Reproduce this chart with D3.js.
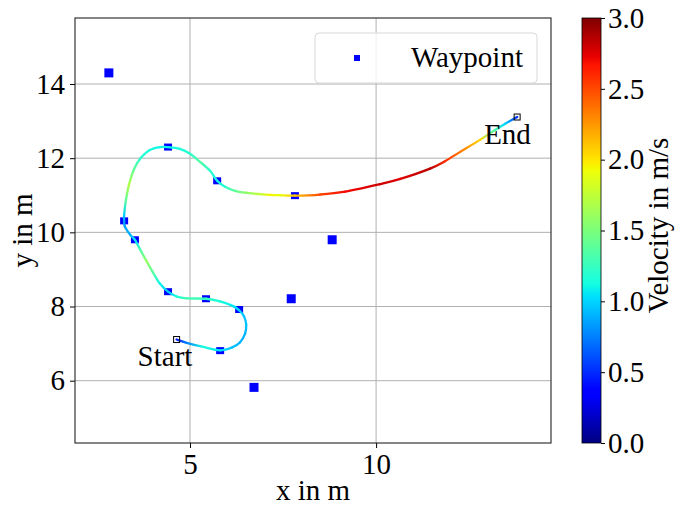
<!DOCTYPE html>
<html>
<head>
<meta charset="utf-8">
<script src="https://cdn.jsdelivr.net/npm/d3@7"></script>
<style>
  body { margin: 0; background: #fff; }
  text { font-family: 'Liberation Serif', serif; }
</style>
</head>
<body>
<main></main>
<script>
// Waypoints on the route and the ones off it
const wayX = [4.41, 5.73, 7.82, 3.23, 3.52, 4.41, 5.43, 6.32, 5.81];
const wayY = [12.30, 11.39, 10.99, 10.31, 9.80, 8.40, 8.21, 7.92, 6.81];
const extraX = [2.82, 8.82, 7.72, 6.72];
const extraY = [14.30, 9.80, 8.21, 5.82];

// Trajectory
const pathX = [4.64, 4.91, 5.36, 5.81, 6.12, 6.34, 6.48, 6.51, 6.45, 6.32, 6.16, 5.81, 5.43, 4.91, 4.64, 4.41, 4.19, 4.01, 3.84, 3.68, 3.52, 3.39, 3.25, 3.23, 3.23, 3.28, 3.36, 3.49, 3.68, 3.92, 4.19, 4.41, 4.73, 5.00, 5.27, 5.54, 5.73, 5.94, 6.21, 6.48, 6.88, 7.15, 7.42, 7.82, 8.49, 9.17, 10.11, 10.65, 11.45, 11.85, 12.26, 12.80, 13.20, 13.47, 13.79];
const pathY = [7.11, 7.02, 6.91, 6.82, 6.89, 7.03, 7.27, 7.51, 7.74, 7.90, 8.01, 8.14, 8.21, 8.22, 8.27, 8.40, 8.62, 8.91, 9.21, 9.50, 9.80, 9.94, 10.16, 10.31, 10.47, 10.88, 11.28, 11.69, 12.01, 12.22, 12.30, 12.30, 12.25, 12.12, 11.90, 11.66, 11.39, 11.23, 11.12, 11.07, 11.03, 11.01, 11.00, 10.99, 11.02, 11.10, 11.30, 11.44, 11.72, 11.92, 12.17, 12.50, 12.76, 12.93, 13.11];
const pathV = [0.45, 0.75, 1.15, 1.05, 0.95, 0.9, 0.9, 0.95, 0.95, 1.0, 1.05, 1.15, 1.25, 1.3, 1.15, 0.95, 1.1, 1.35, 1.6, 1.35, 1.05, 0.9, 0.85, 0.85, 1.0, 1.4, 1.7, 1.4, 1.2, 1.15, 1.1, 1.1, 1.15, 1.2, 1.35, 1.2, 1.1, 1.2, 1.4, 1.55, 1.75, 1.95, 1.9, 2.1, 2.5, 2.7, 2.8, 2.75, 2.85, 2.6, 2.35, 2.05, 1.3, 1.0, 0.5];

const xTicks = [5, 10];
const yTicks = [6, 8, 10, 12, 14];
const vTicks = [0, 0.5, 1, 1.5, 2, 2.5, 3];
const xDomain = [1.91, 14.70];
const yDomain = [4.32, 15.78];
const vDomain = [0, 3];

const width = 676;
const height = 507;
const plot = { left: 75, right: 551, top: 18, bottom: 443 };
const cbar = { left: 582, right: 601 };
const fontSize = 29;

// matplotlib jet
const jetR = d3.scaleLinear().domain([0, 0.35, 0.66, 0.89, 1]).range([0, 0, 1, 1, 0.5]).clamp(true);
const jetG = d3.scaleLinear().domain([0, 0.125, 0.375, 0.64, 0.91, 1]).range([0, 0, 1, 1, 0, 0]).clamp(true);
const jetB = d3.scaleLinear().domain([0, 0.11, 0.34, 0.65, 1]).range([0.5, 1, 1, 0, 0]).clamp(true);
const jet = t => d3.rgb(jetR(t) * 255, jetG(t) * 255, jetB(t) * 255).formatHex();
const vNorm = d3.scaleLinear().domain(vDomain).range([0, 1]).clamp(true);
const vColor = v => jet(vNorm(v));

const x = d3.scaleLinear().domain(xDomain).range([plot.left, plot.right]);
const y = d3.scaleLinear().domain(yDomain).range([plot.bottom, plot.top]);
const vScale = d3.scaleLinear().domain(vDomain).range([plot.bottom, plot.top]);

const svg = d3.select('main')
  .append('svg')
  .attr('width', width)
  .attr('height', height)

const defs = svg.append('defs');

// Grid
svg.append('g')
  .selectAll('line')
  .data(xTicks)
  .enter()
  .append('line')
  .attr('x1', d => x(d))
  .attr('x2', d => x(d))
  .attr('y1', plot.top)
  .attr('y2', plot.bottom)
  .style('stroke', '#b0b0b0')
  .style('stroke-width', 1)

svg.append('g')
  .selectAll('line')
  .data(yTicks)
  .enter()
  .append('line')
  .attr('x1', plot.left)
  .attr('x2', plot.right)
  .attr('y1', d => y(d))
  .attr('y2', d => y(d))
  .style('stroke', '#b0b0b0')
  .style('stroke-width', 1)

// Waypoints
svg.append('g')
  .selectAll('rect')
  .data(d3.zip(extraX, extraY))
  .enter()
  .append('rect')
  .attr('x', d => x(d[0]) - 4.5)
  .attr('y', d => y(d[1]) - 4.5)
  .attr('width', 9)
  .attr('height', 9)
  .style('fill', '#0000ff')

svg.append('g')
  .selectAll('rect')
  .data(d3.zip(wayX, wayY))
  .enter()
  .append('rect')
  .attr('x', d => x(d[0]) - 4)
  .attr('y', d => y(d[1]) - 3.5)
  .attr('width', 8)
  .attr('height', 7)
  .style('fill', '#0000ff')

// Trajectory: one Catmull-Rom piece per pair of points, each with its own gradient
const pts = pathX.map((d, i) => [x(d), y(pathY[i])]);
const n = pts.length;
const segs = d3.range(n - 1).map(i => {
  const p0 = pts[Math.max(i - 1, 0)];
  const p1 = pts[i];
  const p2 = pts[i + 1];
  const p3 = pts[Math.min(i + 2, n - 1)];
  const c1 = [p1[0] + (p2[0] - p0[0]) / 6, p1[1] + (p2[1] - p0[1]) / 6];
  const c2 = [p2[0] - (p3[0] - p1[0]) / 6, p2[1] - (p3[1] - p1[1]) / 6];
  return {
    i, p1, p2,
    d: `M${p1}C${c1} ${c2} ${p2}`,
    col1: vColor(pathV[i]), col2: vColor(pathV[i + 1])
  };
});

const grads = defs.selectAll('linearGradient.seg')
  .data(segs)
  .enter()
  .append('linearGradient')
  .attr('class', 'seg')
  .attr('id', d => 'seg' + d.i)
  .attr('gradientUnits', 'userSpaceOnUse')
  .attr('x1', d => d.p1[0])
  .attr('y1', d => d.p1[1])
  .attr('x2', d => d.p2[0])
  .attr('y2', d => d.p2[1])

grads.append('stop').attr('offset', 0).attr('stop-color', d => d.col1)
grads.append('stop').attr('offset', 1).attr('stop-color', d => d.col2)

svg.append('g')
  .selectAll('path')
  .data(segs)
  .enter()
  .append('path')
  .attr('d', d => d.d)
  .style('fill', 'none')
  .style('stroke', d => `url(#seg${d.i})`)
  .style('stroke-width', 2.3)
  .style('stroke-linecap', 'round')

// Start / End markers
const ends = [
  { px: pathX[0], py: pathY[0], label: 'Start', dx: -39, dy: 26 },
  { px: pathX[pathX.length - 1], py: pathY[pathY.length - 1], label: 'End', dx: -33, dy: 27 }
];

svg.append('g')
  .selectAll('rect')
  .data(ends)
  .enter()
  .append('rect')
  .attr('x', d => x(d.px) - 3)
  .attr('y', d => y(d.py) - 3)
  .attr('width', 6)
  .attr('height', 6)
  .style('fill', 'none')
  .style('stroke', '#000')
  .style('stroke-width', 1)

svg.append('g')
  .selectAll('text')
  .data(ends)
  .enter()
  .append('text')
  .attr('x', d => x(d.px) + d.dx)
  .attr('y', d => y(d.py) + d.dy)
  .text(d => d.label)
  .style('font-size', fontSize + 'px')
  .style('fill', '#000')

// Axes
const xAxis = svg.append('g')
  .attr('transform', `translate(0, ${plot.bottom})`)
  .call(d3.axisBottom(x).tickValues(xTicks).tickSize(5).tickPadding(5))

const yAxis = svg.append('g')
  .attr('transform', `translate(${plot.left}, 0)`)
  .call(d3.axisLeft(y).tickValues(yTicks).tickSize(5).tickPadding(5))

;[xAxis, yAxis].forEach(a => {
  a.select('.domain').remove()
  a.selectAll('text')
    .style('font-family', "'Liberation Serif', serif")
    .style('font-size', fontSize + 'px')
    .style('fill', '#000')
  a.selectAll('line').style('stroke', '#000')
})

svg.append('rect')
  .attr('x', plot.left)
  .attr('y', plot.top)
  .attr('width', plot.right - plot.left)
  .attr('height', plot.bottom - plot.top)
  .style('fill', 'none')
  .style('stroke', '#222')
  .style('stroke-width', 1.1)

svg.append('text')
  .attr('x', (plot.left + plot.right) / 2)
  .attr('y', 500)
  .attr('text-anchor', 'middle')
  .text('x in m')
  .style('font-size', fontSize + 'px')

svg.append('text')
  .attr('transform', `translate(32, ${(plot.top + plot.bottom) / 2}) rotate(-90)`)
  .attr('text-anchor', 'middle')
  .text('y in m')
  .style('font-size', fontSize + 'px')

// Legend
const legend = svg.append('g')

legend.append('rect')
  .attr('x', 315)
  .attr('y', 33)
  .attr('width', 222)
  .attr('height', 50)
  .attr('rx', 4)
  .style('fill', 'rgba(255,255,255,0.8)')
  .style('stroke', '#d8d8d8')
  .style('stroke-width', 1)

legend.append('rect')
  .attr('x', 354)
  .attr('y', 55)
  .attr('width', 6)
  .attr('height', 6)
  .style('fill', '#0000ff')

legend.append('text')
  .attr('x', 523)
  .attr('y', 67)
  .attr('text-anchor', 'end')
  .text('Waypoint')
  .style('font-size', fontSize + 'px')

// Colorbar
const cbGrad = defs.append('linearGradient')
  .attr('id', 'cbgrad')
  .attr('x1', 0).attr('y1', 1)
  .attr('x2', 0).attr('y2', 0)

cbGrad.selectAll('stop')
  .data(d3.range(0, 1.0001, 0.01))
  .enter()
  .append('stop')
  .attr('offset', d => d)
  .attr('stop-color', d => jet(d))

svg.append('rect')
  .attr('x', cbar.left)
  .attr('y', plot.top)
  .attr('width', cbar.right - cbar.left)
  .attr('height', plot.bottom - plot.top)
  .style('fill', 'url(#cbgrad)')
  .style('stroke', '#000')
  .style('stroke-width', 0.8)

const cAxis = svg.append('g')
  .attr('transform', `translate(${cbar.right}, 0)`)
  .call(d3.axisRight(vScale).tickValues(vTicks).tickSize(4).tickPadding(3).tickFormat(d3.format('.1f')))

cAxis.select('.domain').remove()
cAxis.selectAll('text')
  .style('font-family', "'Liberation Serif', serif")
  .style('font-size', fontSize + 'px')
  .style('fill', '#000')
cAxis.selectAll('line').style('stroke', '#000')

svg.append('text')
  .attr('transform', `translate(668, ${(plot.top + plot.bottom) / 2 - 5}) rotate(-90)`)
  .attr('text-anchor', 'middle')
  .text('Velocity in m/s')
  .style('font-size', fontSize + 'px')
</script>
</body>
</html>
